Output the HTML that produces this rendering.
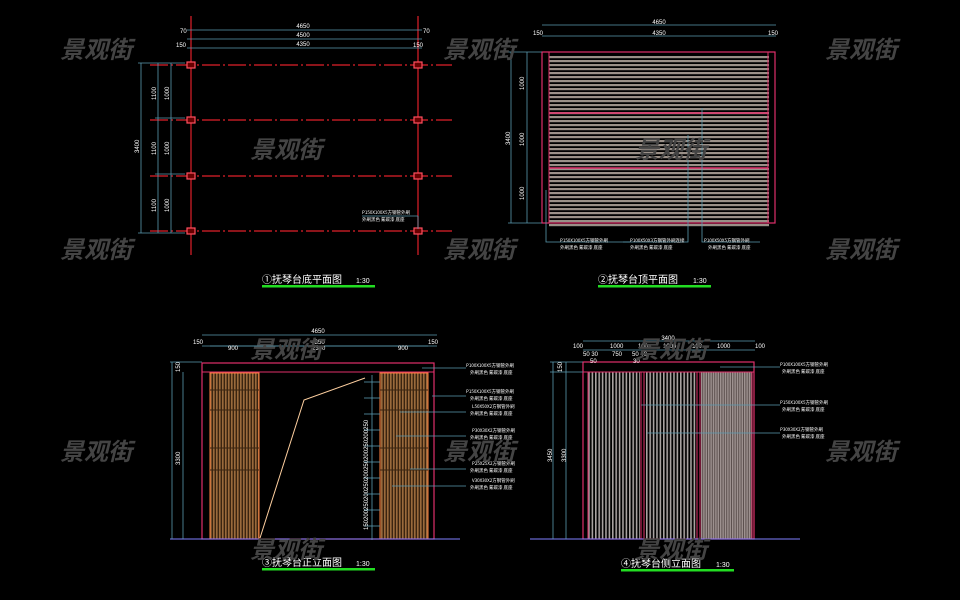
<!DOCTYPE html>
<html><head><meta charset="utf-8"><style>
html,body{margin:0;padding:0;background:#000;}
svg{display:block;}
text{font-family:"Liberation Sans","Noto Sans CJK SC",sans-serif;}
.wm{font-size:24px;font-style:italic;font-weight:bold;fill:#444;font-family:"Noto Sans CJK SC",sans-serif;}
.d{font-size:6px;fill:#fff;}
.lb{font-size:4.5px;fill:#fff;font-family:"Noto Sans CJK SC",sans-serif;}
.tt{font-size:10px;fill:#fff;font-family:"Noto Sans CJK SC",sans-serif;}
.sc{font-size:7px;fill:#fff;}
</style></head><body>
<svg width="960" height="600" viewBox="0 0 960 600" xmlns="http://www.w3.org/2000/svg">
<defs>
<pattern id="hs" width="10" height="4" patternUnits="userSpaceOnUse"><rect width="10" height="2.2" fill="#9a9088"/></pattern>
<pattern id="vb" width="3" height="10" patternUnits="userSpaceOnUse"><rect width="3" height="10" fill="#3a2410"/><rect width="1.6" height="10" fill="#9a6a3c"/></pattern>
<pattern id="vg" width="3.4" height="10" patternUnits="userSpaceOnUse"><rect width="1.6" height="10" fill="#a8a2a0"/></pattern>
<pattern id="vg2" width="2.4" height="10" patternUnits="userSpaceOnUse"><rect width="1.4" height="10" fill="#9e9290"/></pattern>
</defs>
<rect width="960" height="600" fill="#000"/>

<!-- Panel 1 -->
<g stroke="#e0202a" stroke-width="1.2" fill="none">
<line x1="191" y1="16" x2="191" y2="255"/><line x1="418" y1="16" x2="418" y2="255"/>
<g stroke-dasharray="18,3,2,3">
<line x1="150" y1="65" x2="452" y2="65"/><line x1="150" y1="120" x2="452" y2="120"/>
<line x1="150" y1="176" x2="452" y2="176"/><line x1="150" y1="231" x2="452" y2="231"/>
</g>
<g stroke="#ff5060" fill="#600"><rect x="187" y="62" width="8" height="6"/><rect x="414" y="62" width="8" height="6"/><rect x="187" y="117" width="8" height="6"/><rect x="414" y="117" width="8" height="6"/><rect x="187" y="173" width="8" height="6"/><rect x="414" y="173" width="8" height="6"/><rect x="187" y="228" width="8" height="6"/><rect x="414" y="228" width="8" height="6"/></g>
</g>
<g stroke="#5a9ab0" stroke-width="0.8">
<line x1="187" y1="30" x2="422" y2="30"/><line x1="187" y1="39" x2="422" y2="39"/><line x1="187" y1="48" x2="422" y2="48"/>
<line x1="141" y1="63" x2="141" y2="233"/><line x1="158" y1="63" x2="158" y2="233"/><line x1="171" y1="63" x2="171" y2="233"/>
<line x1="138" y1="63" x2="185" y2="63"/><line x1="138" y1="233" x2="185" y2="233"/>
<line x1="155" y1="118" x2="185" y2="118"/><line x1="155" y1="174" x2="185" y2="174"/>
<line x1="362" y1="216" x2="418" y2="216"/><line x1="418" y1="216" x2="418" y2="229"/>
</g>
<text class="d" x="303" y="28" text-anchor="middle">4650</text>
<text class="d" x="303" y="37" text-anchor="middle">4500</text>
<text class="d" x="303" y="46" text-anchor="middle">4350</text>
<text class="d" x="180" y="33">70</text><text class="d" x="423" y="33">70</text>
<text class="d" x="176" y="47">150</text><text class="d" x="413" y="47">150</text>
<text class="d" transform="translate(139,153) rotate(-90)">3400</text>
<text class="d" transform="translate(156,100) rotate(-90)">1100</text>
<text class="d" transform="translate(156,155) rotate(-90)">1100</text>
<text class="d" transform="translate(156,212) rotate(-90)">1100</text>
<text class="d" transform="translate(169,100) rotate(-90)">1000</text>
<text class="d" transform="translate(169,155) rotate(-90)">1000</text>
<text class="d" transform="translate(169,212) rotate(-90)">1000</text>
<text class="lb" x="362" y="214">P150X100X5方钢管外刷</text>
<text class="lb" x="362" y="221">外刷黑色 氟碳漆 底座</text>
<text class="tt" x="262" y="283">①抚琴台底平面图</text><text class="sc" x="356" y="283">1:30</text>
<rect x="262" y="285" width="113" height="2.5" fill="#22dd22"/>

<!-- Panel 2 -->
<rect x="549" y="55" width="220" height="173" fill="url(#hs)"/>
<rect x="542" y="52" width="233" height="171" fill="none" stroke="#e0306a" stroke-width="1.2"/>
<line x1="549" y1="52" x2="549" y2="223" stroke="#e0306a"/><line x1="768" y1="52" x2="768" y2="223" stroke="#e0306a"/>
<line x1="549" y1="113" x2="768" y2="113" stroke="#e0306a" stroke-width="1.5"/>
<line x1="549" y1="168" x2="768" y2="168" stroke="#e0306a" stroke-width="1.5"/>
<g stroke="#5a9ab0" stroke-width="0.8" fill="none">
<line x1="542" y1="25" x2="776" y2="25"/><line x1="542" y1="36" x2="776" y2="36"/>
<line x1="511" y1="52" x2="511" y2="223"/><line x1="527" y1="52" x2="527" y2="223"/>
<line x1="508" y1="52" x2="542" y2="52"/><line x1="508" y1="223" x2="542" y2="223"/>
<polyline points="546,190 546,242 630,242"/>
<polyline points="688,135 688,242 623,242"/>
<polyline points="702,108 702,242 760,242"/>
</g>
<text class="d" x="659" y="24" text-anchor="middle">4650</text>
<text class="d" x="659" y="35" text-anchor="middle">4350</text>
<text class="d" x="533" y="35">150</text><text class="d" x="768" y="35">150</text>
<text class="d" transform="translate(510,145) rotate(-90)">3400</text>
<text class="d" transform="translate(524,90) rotate(-90)">1000</text>
<text class="d" transform="translate(524,146) rotate(-90)">1000</text>
<text class="d" transform="translate(524,200) rotate(-90)">1000</text>
<text class="lb" x="560" y="242">P150X100X5方钢管外刷</text><text class="lb" x="560" y="249">外刷黑色 氟碳漆 底座</text>
<text class="lb" x="630" y="242">P100X50X3方钢管外刷连接</text><text class="lb" x="630" y="249">外刷黑色 氟碳漆 底座</text>
<text class="lb" x="704" y="242">P100X50X5方钢管外刷</text><text class="lb" x="708" y="249">外刷黑色 氟碳漆 底座</text>
<text class="tt" x="598" y="283">②抚琴台顶平面图</text><text class="sc" x="693" y="283">1:30</text>
<rect x="598" y="285" width="113" height="2.5" fill="#22dd22"/>

<!-- Panel 3 -->
<rect x="210" y="373" width="49" height="166" fill="url(#vb)" stroke="#ff8040" stroke-width="1"/>
<rect x="380" y="373" width="48" height="166" fill="url(#vb)" stroke="#ff8040" stroke-width="1"/>
<g stroke="#3a2410" stroke-width="1"><line x1="210" y1="390" x2="259" y2="390"/><line x1="210" y1="410" x2="259" y2="410"/><line x1="210" y1="448" x2="259" y2="448"/><line x1="210" y1="470" x2="259" y2="470"/><line x1="380" y1="390" x2="428" y2="390"/><line x1="380" y1="410" x2="428" y2="410"/><line x1="380" y1="448" x2="428" y2="448"/><line x1="380" y1="470" x2="428" y2="470"/></g>
<rect x="202" y="363" width="232" height="176" fill="none" stroke="#e0306a" stroke-width="1.2"/>
<line x1="202" y1="372" x2="434" y2="372" stroke="#e0306a"/>
<line x1="170" y1="539" x2="460" y2="539" stroke="#8080ff" stroke-width="1"/>
<polyline points="260,538 304,400 365,378" fill="none" stroke="#ffd0a0" stroke-width="1"/>
<g stroke="#5a9ab0" stroke-width="0.8">
<line x1="202" y1="335" x2="437" y2="335"/><line x1="202" y1="346" x2="437" y2="346"/><line x1="210" y1="346" x2="428" y2="346"/>
<line x1="172" y1="362" x2="172" y2="539"/><line x1="183" y1="372" x2="183" y2="539"/>
<line x1="170" y1="362" x2="202" y2="362"/>
<line x1="372" y1="375" x2="372" y2="540"/>
<line x1="364" y1="382" x2="380" y2="382"/><line x1="364" y1="398" x2="380" y2="398"/><line x1="364" y1="414" x2="380" y2="414"/><line x1="364" y1="430" x2="380" y2="430"/><line x1="364" y1="446" x2="380" y2="446"/><line x1="364" y1="462" x2="380" y2="462"/><line x1="364" y1="478" x2="380" y2="478"/><line x1="364" y1="494" x2="380" y2="494"/><line x1="364" y1="510" x2="380" y2="510"/><line x1="364" y1="526" x2="380" y2="526"/>
<line x1="422" y1="368" x2="466" y2="368"/><line x1="432" y1="396" x2="466" y2="396"/><line x1="400" y1="412" x2="466" y2="412"/><line x1="396" y1="436" x2="466" y2="436"/><line x1="410" y1="469" x2="466" y2="469"/><line x1="392" y1="486" x2="466" y2="486"/>
</g>
<text class="d" x="318" y="333" text-anchor="middle">4650</text>
<text class="d" x="318" y="344" text-anchor="middle">4350</text>
<text class="d" x="193" y="344">150</text><text class="d" x="428" y="344">150</text>
<text class="d" x="228" y="350">900</text><text class="d" x="312" y="350">2390</text><text class="d" x="398" y="350">900</text>
<text class="d" transform="translate(180,372) rotate(-90)">150</text>
<text class="d" transform="translate(180,465) rotate(-90)">3300</text>
<text class="d" transform="translate(368,530) rotate(-90)">150200250200250200250200250200250</text>
<text class="lb" x="466" y="367">P100X100X5方钢管外刷</text><text class="lb" x="470" y="374">外刷黑色 氟碳漆 底座</text>
<text class="lb" x="466" y="393">P150X100X5方钢管外刷</text><text class="lb" x="470" y="400">外刷黑色 氟碳漆 底座</text>
<text class="lb" x="472" y="408">L50X50X2方钢管外刷</text><text class="lb" x="470" y="415">外刷黑色 氟碳漆 底座</text>
<text class="lb" x="472" y="432">P30X30X2方钢管外刷</text><text class="lb" x="470" y="439">外刷黑色 氟碳漆 底座</text>
<text class="lb" x="472" y="465">P25X25X2方钢管外刷</text><text class="lb" x="470" y="472">外刷黑色 氟碳漆 底座</text>
<text class="lb" x="472" y="482">V30X30X2方钢管外刷</text><text class="lb" x="470" y="489">外刷黑色 氟碳漆 底座</text>
<text class="tt" x="262" y="566">③抚琴台正立面图</text><text class="sc" x="356" y="566">1:30</text>
<rect x="262" y="568" width="113" height="2.5" fill="#22dd22"/>

<!-- Panel 4 -->
<rect x="588" y="372" width="52" height="167" fill="url(#vg)"/>
<rect x="644" y="372" width="53" height="167" fill="url(#vg)"/>
<rect x="701" y="372" width="51" height="167" fill="#5a4e4c"/>
<rect x="701" y="372" width="51" height="167" fill="url(#vg2)"/>
<rect x="583" y="362" width="171" height="177" fill="none" stroke="#e0306a" stroke-width="1.2"/>
<line x1="583" y1="372" x2="754" y2="372" stroke="#e0306a"/>
<g stroke="#e0306a" stroke-width="1"><line x1="588" y1="372" x2="588" y2="539"/><line x1="641" y1="372" x2="641" y2="539"/><line x1="644" y1="372" x2="644" y2="539"/><line x1="697" y1="372" x2="697" y2="539"/><line x1="700" y1="372" x2="700" y2="539"/><line x1="752" y1="372" x2="752" y2="539"/></g>
<line x1="530" y1="539" x2="800" y2="539" stroke="#8080ff" stroke-width="1"/>
<g stroke="#5a9ab0" stroke-width="0.8">
<line x1="583" y1="341" x2="755" y2="341"/><line x1="583" y1="350" x2="755" y2="350"/>
<line x1="553" y1="362" x2="553" y2="539"/><line x1="566" y1="362" x2="566" y2="539"/>
<line x1="550" y1="362" x2="583" y2="362"/><line x1="550" y1="372" x2="583" y2="372"/>
<line x1="720" y1="367" x2="780" y2="367"/><line x1="641" y1="405" x2="780" y2="405"/><line x1="647" y1="433" x2="780" y2="433"/>
</g>
<text class="d" x="668" y="340" text-anchor="middle">3400</text>
<text class="d" x="573" y="348">100</text><text class="d" x="610" y="348">1000</text><text class="d" x="638" y="348">100</text><text class="d" x="663" y="348">1000</text><text class="d" x="692" y="348">100</text><text class="d" x="717" y="348">1000</text><text class="d" x="755" y="348">100</text>
<text class="d" x="583" y="356">50 30</text><text class="d" x="612" y="356">750</text><text class="d" x="632" y="356">50 40</text>
<text class="d" x="590" y="363">50</text><text class="d" x="633" y="363">30</text>
<text class="d" transform="translate(562,372) rotate(-90)">150</text>
<text class="d" transform="translate(552,462) rotate(-90)">3450</text>
<text class="d" transform="translate(566,462) rotate(-90)">3300</text>
<text class="lb" x="780" y="366">P100X100X5方钢管外刷</text><text class="lb" x="782" y="373">外刷黑色 氟碳漆 底座</text>
<text class="lb" x="780" y="404">P150X100X5方钢管外刷</text><text class="lb" x="782" y="411">外刷黑色 氟碳漆 底座</text>
<text class="lb" x="780" y="431">P30X30X2方钢管外刷</text><text class="lb" x="782" y="438">外刷黑色 氟碳漆 底座</text>
<text class="tt" x="621" y="567">④抚琴台侧立面图</text><text class="sc" x="716" y="567">1:30</text>
<rect x="621" y="569" width="113" height="2.5" fill="#22dd22"/>

<!-- watermarks -->
<text class="wm" x="60" y="58">景观街</text><text class="wm" x="443" y="58">景观街</text><text class="wm" x="825" y="58">景观街</text>
<text class="wm" x="250" y="158">景观街</text><text class="wm" x="635" y="158">景观街</text>
<text class="wm" x="60" y="258">景观街</text><text class="wm" x="443" y="258">景观街</text><text class="wm" x="825" y="258">景观街</text>
<text class="wm" x="250" y="358">景观街</text><text class="wm" x="635" y="358">景观街</text>
<text class="wm" x="60" y="460">景观街</text><text class="wm" x="443" y="460">景观街</text><text class="wm" x="825" y="460">景观街</text>
<text class="wm" x="250" y="558">景观街</text><text class="wm" x="635" y="558">景观街</text>
</svg>
</body></html>
